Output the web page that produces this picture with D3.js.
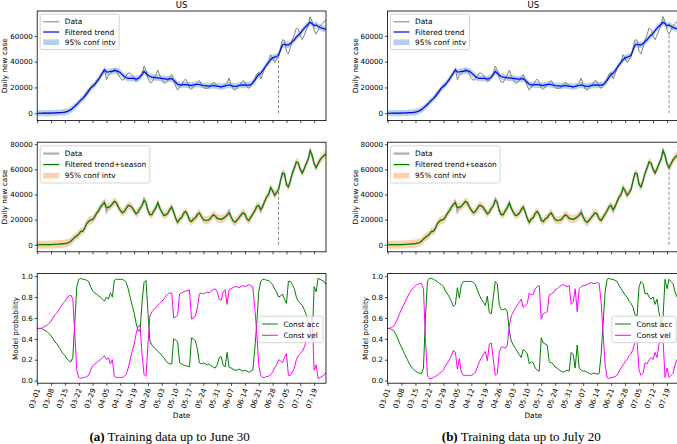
<!DOCTYPE html>
<html><head><meta charset="utf-8">
<script src="https://cdn.jsdelivr.net/npm/d3@7"></script>
<style>
body{margin:0;background:#fff}
text{font-family:"DejaVu Sans",sans-serif;fill:#000}
</style>
</head><body>
<svg id="c" width="677" height="444"></svg>
<script>
// ---------------- DATA ----------------
const startDate = "2020-03-01";
const tickLabels = ["03-01","03-08","03-15","03-22","03-29","04-05","04-12","04-19","04-26","05-03","05-10","05-17","05-24","05-31","06-07","06-14","06-21","06-28","07-05","07-12","07-19"];
const casesTicksTop = [0, 20000, 40000, 60000];
const casesTicksMid = [0, 20000, 40000, 60000, 80000];
const probTicks = [0, 0.2, 0.4, 0.6, 0.8, 1.0];
const splitDates = ["2020-07-01", "2020-07-20"];
const titles = ["US", "US"];
const captionTags = ["(a)", "(b)"];
const captionTexts = [" Training data up to June 30", " Training data up to July 20"];

const dailyCases = [
  20,25,30,40,60,90,120,140,200,300,
  400,500,650,750,900,1300,1800,2800,4500,5900,
  7000,8500,10500,10800,13000,17000,18500,19800,20000,22000,
  25000,27000,30000,32000,34500,26000,29500,30500,32500,34500,
  33500,30000,27500,25500,26500,29000,31300,31000,29500,27000,
  24600,26000,29000,31000,36600,33500,27000,24000,24000,27000,
  29500,33400,29000,26000,23300,23800,25000,28000,30000,26000,
  21000,17900,20500,21500,25000,26500,24000,19500,18500,20500,
  21500,24000,25400,22500,20000,19300,19500,20000,22000,23800,
  23000,21000,20600,20200,21000,22000,23500,27300,22000,19000,
  17900,19500,21500,23500,25400,24500,20500,19300,22000,24500,
  27000,30500,31800,26500,30500,34500,38000,40000,45500,43000,
  39300,41500,44000,51000,57000,56500,48000,46000,51000,57000,
  61000,66000,65000,60000,57000,60500,64500,68000,75000,71000,
  64500,61300,64500,67500,69500,71000,72000
];
const filteredTrend = [
  0,10,20,40,60,80,110,140,190,260,
  350,450,560,700,900,1300,1900,2800,4000,5300,
  6800,8400,10000,11500,13200,15000,17200,19500,21000,22300,
  24200,26200,28500,31000,33500,32000,32000,32500,32500,33000,
  32800,32500,31500,30000,28500,27500,27000,27000,27000,27000,
  26500,27000,28000,30000,32500,31000,29500,28500,28000,27800,
  27500,27500,27200,27000,26800,26500,26500,26700,26800,25500,
  24000,22500,22000,22000,22200,22200,22000,21800,21500,22000,
  22300,22500,22300,21800,21500,21300,21200,21000,21200,21500,
  21300,21000,20800,20500,20800,21200,21500,22000,21500,21000,
  20800,21000,21500,21800,22000,21800,21800,21800,22200,23500,
  25500,28000,30000,31000,33000,35500,37500,39500,41500,43000,
  43500,44000,45000,49000,53000,53500,53000,53000,54000,55500,
  57000,59000,60500,62000,64000,66000,67500,69000,70500,69500,
  68000,68500,67500,66500,66000,65500,65000
];
const trendSeason = [
  20,25,30,40,60,90,120,140,200,300,
  400,500,650,750,900,1300,1800,2800,4500,5900,
  7000,8500,10500,10800,13000,17000,18500,19800,20000,22000,
  25000,27000,30000,32000,33500,29500,30000,30500,32500,34500,
  33500,30000,27500,25500,26500,29000,31300,31000,29500,27000,
  24600,26000,29000,31000,35500,33500,27000,24000,24000,27000,
  29500,33400,29000,26000,23300,23800,25000,28000,30000,26000,
  21000,17900,20500,21500,25000,26500,24000,19500,18500,20500,
  21500,24000,25400,22500,20000,19300,19500,20000,22000,23800,
  23000,21000,20600,20200,21000,22000,23500,25500,22000,19000,
  17900,19500,21500,23500,25400,24500,20500,19300,22000,24500,
  27000,30500,31000,28000,30500,34500,38000,40000,45500,43000,
  39300,41500,44000,51000,57000,56500,48000,46000,51000,57000,
  61000,66000,65000,60000,57000,60500,64500,68000,75000,71000,
  64500,61300,64500,67500,69500,71000,72000
];
const ciTrendHalf = 2400;
const ciSeasonHalf = 3200;

const probAccA = [
  .50,.50,.50,.49,.48,.47,.45,.43,.40,.37,
  .35,.32,.29,.26,.24,.21,.19,.18,.22,.55,
  .90,.97,.98,.97,.97,.96,.95,.90,.86,.84,
  .83,.81,.80,.78,.76,.80,.78,.84,.80,.96,
  .97,.97,.97,.97,.96,.94,.88,.80,.72,.65,
  .55,.48,.47,.75,.94,.96,.65,.38,.34,.32,
  .30,.28,.26,.24,.22,.19,.17,.16,.16,.40,
  .39,.37,.17,.16,.15,.14,.14,.13,.41,.40,
  .38,.30,.17,.16,.17,.16,.15,.16,.14,.13,
  .12,.15,.22,.23,.15,.13,.27,.13,.12,.11,
  .10,.10,.11,.10,.09,.10,.09,.08,.09,.10,
  .30,.55,.85,.95,.97,.97,.96,.96,.94,.92,
  .88,.85,.80,.81,.83,.78,.74,.95,.95,.92,
  .88,.80,.76,.74,.72,.68,.63,.57,.50,.38,
  .90,.85,.98,.97,.96,.95,.92
];
const probVelA = [
  .50,.50,.50,.51,.52,.53,.55,.57,.60,.63,
  .65,.68,.71,.74,.76,.79,.81,.82,.78,.45,
  .10,.03,.02,.03,.03,.04,.05,.10,.14,.16,
  .17,.19,.20,.22,.24,.20,.22,.16,.20,.04,
  .03,.03,.03,.03,.04,.06,.12,.20,.28,.35,
  .45,.52,.53,.25,.06,.04,.35,.62,.66,.68,
  .70,.72,.74,.76,.78,.81,.83,.84,.84,.60,
  .61,.63,.83,.84,.85,.86,.86,.87,.59,.60,
  .62,.70,.83,.84,.83,.84,.85,.84,.86,.87,
  .88,.85,.78,.77,.85,.87,.73,.87,.88,.89,
  .90,.90,.89,.90,.91,.90,.91,.92,.91,.90,
  .70,.45,.15,.05,.03,.03,.04,.04,.06,.08,
  .12,.15,.20,.19,.17,.22,.26,.05,.05,.08,
  .12,.20,.24,.26,.28,.32,.37,.43,.50,.62,
  .10,.15,.02,.03,.04,.05,.08
];
const probAccB = [
  .50,.50,.49,.48,.45,.41,.36,.32,.28,.24,
  .20,.16,.13,.11,.09,.08,.07,.07,.12,.60,
  .95,.98,.98,.97,.96,.95,.93,.92,.90,.86,
  .83,.80,.76,.71,.73,.89,.79,.92,.95,.95,
  .95,.95,.95,.94,.92,.87,.82,.78,.75,.72,
  .81,.65,.64,.80,.95,.93,.72,.68,.68,.69,
  .66,.48,.38,.34,.31,.28,.25,.22,.30,.28,
  .26,.16,.18,.17,.12,.10,.09,.41,.36,.35,
  .34,.18,.17,.16,.13,.12,.10,.09,.08,.09,
  .10,.09,.27,.25,.12,.34,.12,.10,.09,.09,
  .08,.07,.06,.07,.07,.06,.07,.25,.55,.85,
  .97,.98,.97,.97,.96,.95,.91,.88,.85,.82,
  .80,.76,.74,.70,.63,.62,.90,.95,.93,.83,
  .84,.80,.78,.80,.73,.78,.65,.55,.60,.97,
  .88,.97,.95,.93,.85,.80,.78
];
const probVelB = [
  .50,.50,.51,.52,.55,.59,.64,.68,.72,.76,
  .80,.84,.87,.89,.91,.92,.93,.93,.88,.40,
  .05,.02,.02,.03,.04,.05,.07,.08,.10,.14,
  .17,.20,.24,.29,.27,.11,.21,.08,.05,.05,
  .05,.05,.05,.06,.08,.13,.18,.22,.25,.28,
  .19,.35,.36,.20,.05,.07,.28,.32,.32,.31,
  .34,.52,.62,.66,.69,.72,.75,.78,.70,.72,
  .74,.84,.82,.83,.88,.90,.91,.59,.64,.65,
  .66,.82,.83,.84,.87,.88,.90,.91,.92,.91,
  .90,.91,.73,.75,.88,.66,.88,.90,.91,.91,
  .92,.93,.94,.93,.93,.94,.93,.75,.45,.15,
  .03,.02,.03,.03,.04,.05,.09,.12,.15,.18,
  .20,.24,.26,.30,.37,.38,.10,.05,.07,.17,
  .16,.20,.22,.20,.27,.22,.35,.45,.40,.03,
  .12,.03,.05,.07,.15,.20,.22
];
const probAcc = [probAccA, probAccB];
const probVel = [probVelA, probVelB];

// ---------------- LAYOUT ----------------
const svg = d3.select("#c");
const parseDay = d3.timeParse("%Y-%m-%d");
const day0 = parseDay(startDate);
const days = d3.timeDay.range(day0, d3.timeDay.offset(day0, dailyCases.length));
const tickDates = tickLabels.map(l => parseDay("2020-" + l));
const cols = [{x0: 37.2, x1: 326}, {x0: 387.5, x1: 679}];
const rowTops = [11, 142.2, 273.6];
const H = 109.6;
const FS = 7.1;

const C = {
  gray: "#808080", blue: "#0000ff", green: "#008000", magenta: "#ff00ff",
  band1: "#b3d2ea", band2: "#fdd2ab", dataThick: "#b4b4b4"
};

function styleAxis(g) {
  g.select(".domain").remove();
  g.selectAll(".tick line").attr("stroke", "#000").attr("stroke-width", 0.7);
  g.selectAll(".tick text").style("font-size", FS + "px").style("font-family", "DejaVu Sans");
}

function legend(g, bx, by, items, rowGap, alignRight) {
  const lg = g.append("g");
  const box = lg.append("rect");
  const rowsG = items.map((it, i) => {
    const ry = by + 7.8 + i * rowGap;
    if (it.type === "line") {
      lg.append("line").attr("x1", bx + 3).attr("x2", bx + 19).attr("y1", ry).attr("y2", ry)
        .attr("stroke", it.color).attr("stroke-width", it.width);
    } else {
      lg.append("rect").attr("x", bx + 3).attr("y", ry - 2.8).attr("width", 16).attr("height", 5.6)
        .attr("fill", it.color);
    }
    return lg.append("text").attr("x", bx + 24.5).attr("y", ry).attr("dominant-baseline", "central")
      .style("font-size", "7.4px").text(it.label);
  });
  const maxW = d3.max(rowsG, t => t.node().getComputedTextLength());
  const w = 24.5 + maxW + 3.5;
  const h = 7.8 + (items.length - 1) * rowGap + 7.4;
  box.attr("x", bx).attr("y", by).attr("width", w).attr("height", h).attr("rx", 2)
    .attr("fill", "#fff").attr("fill-opacity", 0.8).attr("stroke", "#cccccc").attr("stroke-width", 0.8);
  if (alignRight) lg.attr("transform", `translate(${-w},0)`);
}

cols.forEach((col, ci) => {
  const x = d3.scaleTime().domain([days[0], days[days.length - 1]]).range([col.x0, col.x1]);
  const splitIdx = days.findIndex(d => +d === +parseDay(splitDates[ci]));
  const W = col.x1 - col.x0;

  const panels = [
    {type: "trend", domain: [-5700, 79300], ticks: casesTicksTop},
    {type: "season", domain: [-5600, 81600], ticks: casesTicksMid},
    {type: "prob", domain: [-0.025, 1.025], ticks: probTicks}
  ];

  panels.forEach((p, pi) => {
    const top = rowTops[pi];
    const y = d3.scaleLinear().domain(p.domain).range([top + H, top]);
    const g = svg.append("g");
    const clipId = `clip${ci}${pi}`;
    svg.append("clipPath").attr("id", clipId).append("rect")
      .attr("x", col.x0).attr("y", top).attr("width", W).attr("height", H);
    const pg = g.append("g").attr("clip-path", `url(#${clipId})`);
    const line = d3.line().x((d, i) => x(days[i])).y(d => y(d));

    if (p.type === "trend") {
      const area = d3.area().x((d, i) => x(days[i]))
        .y0(d => y(d - ciTrendHalf)).y1(d => y(d + ciTrendHalf));
      pg.append("path").datum(filteredTrend).attr("d", area).attr("fill", C.band1);
      pg.append("path").datum(dailyCases).attr("d", line).attr("fill", "none")
        .attr("stroke", C.gray).attr("stroke-width", 1);
      pg.append("path").datum(filteredTrend).attr("d", line).attr("fill", "none")
        .attr("stroke", C.blue).attr("stroke-width", 1.2);
    } else if (p.type === "season") {
      const area = d3.area().x((d, i) => x(days[i]))
        .y0(d => y(d - ciSeasonHalf)).y1(d => y(d + ciSeasonHalf));
      pg.append("path").datum(trendSeason).attr("d", area).attr("fill", C.band2);
      pg.append("path").datum(dailyCases).attr("d", line).attr("fill", "none")
        .attr("stroke", C.dataThick).attr("stroke-width", 1.8);
      pg.append("path").datum(trendSeason).attr("d", line).attr("fill", "none")
        .attr("stroke", C.green).attr("stroke-width", 1.2);
    } else {
      pg.append("path").datum(probAcc[ci]).attr("d", line).attr("fill", "none")
        .attr("stroke", C.green).attr("stroke-width", 1);
      pg.append("path").datum(probVel[ci]).attr("d", line).attr("fill", "none")
        .attr("stroke", C.magenta).attr("stroke-width", 1);
    }

    if (p.type !== "prob") {
      pg.append("line").attr("x1", x(days[splitIdx])).attr("x2", x(days[splitIdx]))
        .attr("y1", y(0)).attr("y2", y(dailyCases[splitIdx]))
        .attr("stroke", C.gray).attr("stroke-width", 0.9).attr("stroke-dasharray", "3,2");
    }

    // frame
    g.append("rect").attr("x", col.x0).attr("y", top).attr("width", W).attr("height", H)
      .attr("fill", "none").attr("stroke", "#000").attr("stroke-width", 0.8);

    // axes
    const fmt = p.type === "prob" ? d3.format(".1f") : d3.format("d");
    const ya = g.append("g").attr("transform", `translate(${col.x0},0)`)
      .call(d3.axisLeft(y).tickValues(p.ticks).tickFormat(fmt).tickSize(2.6).tickPadding(1.8));
    styleAxis(ya);

    const xa = g.append("g").attr("transform", `translate(0,${top + H})`)
      .call(d3.axisBottom(x).tickValues(tickDates).tickSize(2.6)
        .tickFormat((d, i) => p.type === "prob" ? tickLabels[i] : ""));
    styleAxis(xa);
    if (p.type === "prob") {
      xa.selectAll(".tick text").attr("y", 0).attr("dy", null)
        .attr("text-anchor", "end")
        .attr("transform", "translate(2.6,6.4) rotate(-70)");
    }

    // y label
    const yl = p.type === "prob" ? "Model probability" : "Daily new case";
    const lx = col.x0 + (p.type === "prob" ? -22 : -32.3);
    g.append("text").attr("transform", `translate(${lx},${top + H / 2}) rotate(-90)`)
      .attr("text-anchor", "middle").attr("dominant-baseline", "central")
      .style("font-size", "7.3px").text(yl);

    // legends
    if (p.type === "trend") {
      legend(g, col.x0 + 3, top + 3, [
        {type: "line", color: C.gray, width: 1, label: "Data"},
        {type: "line", color: C.blue, width: 1.2, label: "Filtered trend"},
        {type: "patch", color: C.band1, label: "95% conf intv"}
      ], 10.2, false);
      g.append("text").attr("x", (col.x0 + col.x1) / 2).attr("y", 8)
        .attr("text-anchor", "middle").style("font-size", "8.5px").text(titles[ci]);
    } else if (p.type === "season") {
      legend(g, col.x0 + 3, top + 3.6, [
        {type: "line", color: C.dataThick, width: 2.4, label: "Data"},
        {type: "line", color: C.green, width: 1.2, label: "Filtered trend+season"},
        {type: "patch", color: C.band2, label: "95% conf intv"}
      ], 11, false);
    } else {
      legend(g, col.x1 - 3, top + 42.6, [
        {type: "line", color: C.green, width: 1, label: "Const acc"},
        {type: "line", color: C.magenta, width: 1, label: "Const vel"}
      ], 11.3, true);
      g.append("text").attr("x", (col.x0 + col.x1) / 2).attr("y", 417.5)
        .attr("text-anchor", "middle").style("font-size", "7.4px").text("Date");
    }
  });

  // caption
  const cap = svg.append("text").attr("x", (col.x0 + col.x1) / 2 - 12).attr("y", 441)
    .attr("text-anchor", "middle")
    .style("font-family", "'Liberation Serif','Times New Roman',serif").style("font-size", "13px");
  cap.append("tspan").style("font-weight", "bold").style("font-family", "'Liberation Serif',serif").text(captionTags[ci]);
  cap.append("tspan").style("font-family", "'Liberation Serif',serif").text(captionTexts[ci]);
});
</script>
</body></html>
